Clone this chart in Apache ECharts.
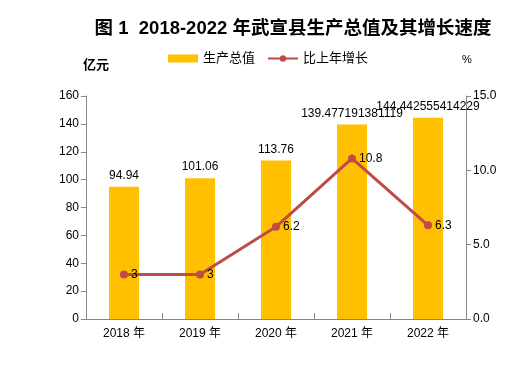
<!DOCTYPE html>
<html><head><meta charset="utf-8">
<script src="https://cdn.jsdelivr.net/npm/echarts@6/dist/echarts.min.js"></script>
<style>html,body{margin:0;padding:0;background:#fff}#c{width:524px;height:378px}</style>
</head><body><div id="c"></div>
<script>
const categories = ['2018 年','2019 年','2020 年','2021 年','2022 年'];
const gdpValues = [94.94, 101.06, 113.76, 139.477191381119, 144.442555414229];
const growthValues = [3, 3, 6.2, 10.8, 6.3];
const leftTicks = [0, 160, 20];
const rightTicks = [0, 15, 5];

const chart = echarts.init(document.getElementById('c'));
const font = '"Liberation Sans", "Noto Sans CJK SC", sans-serif';
chart.setOption({
  animation: false,
  textStyle: {fontFamily: font},
  title: {
    text: '图 1  2018-2022 年武宣县生产总值及其增长速度',
    left: 288, top: 15, textAlign: 'center',
    textStyle: {fontSize: 18.5, fontWeight: 'bold', color: '#000', fontFamily: font}
  },
  legend: {
    top: 47, left: 163, itemGap: 12, itemWidth: 30, itemHeight: 8,
    textStyle: {fontSize: 13, color: '#000', fontFamily: font},
    data: [
      {name: '生产总值', icon: 'rect'},
      {name: '比上年增长'}
    ]
  },
  graphic: [
    {type: 'text', left: 83, top: 59, style: {text: '亿元', font: 'bold 13px ' + font, fill: '#000'}},
    {type: 'text', left: 462, top: 54, style: {text: '%', font: '11px ' + font, fill: '#000'}}
  ],
  grid: {left: 86, right: 58, top: 96, bottom: 59, containLabel: false},
  xAxis: {
    type: 'category', data: categories,
    axisLine: {lineStyle: {color: '#868686'}},
    axisTick: {show: true, inside: true, length: 6, lineStyle: {color: '#868686'}},
    axisLabel: {color: '#000', fontSize: 12, margin: 9}
  },
  yAxis: [
    {type: 'value', min: leftTicks[0], max: leftTicks[1], interval: leftTicks[2],
     axisLine: {show: true, lineStyle: {color: '#868686'}},
     axisTick: {show: true, length: 5, lineStyle: {color: '#868686'}},
     splitLine: {show: false},
     axisLabel: {color: '#000', fontSize: 12, margin: 7}},
    {type: 'value', min: rightTicks[0], max: rightTicks[1], interval: rightTicks[2], position: 'right',
     axisLine: {show: true, lineStyle: {color: '#868686'}},
     axisTick: {show: true, length: 5, lineStyle: {color: '#868686'}},
     splitLine: {show: false},
     axisLabel: {color: '#000', fontSize: 12, margin: 7, formatter: v => v.toFixed(1)}}
  ],
  series: [
    {name: '生产总值', type: 'bar', data: gdpValues, barWidth: 30, yAxisIndex: 0,
     itemStyle: {color: '#FFC000'},
     label: {show: true, position: 'top', color: '#000', fontSize: 12, distance: 5}},
    {name: '比上年增长', type: 'line', data: growthValues, yAxisIndex: 1,
     symbol: 'circle', symbolSize: 8,
     lineStyle: {color: '#BE4B48', width: 3},
     itemStyle: {color: '#BE4B48'},
     label: {show: true, position: 'right', color: '#000', fontSize: 12, distance: 3}}
  ]
});
</script></body></html>
